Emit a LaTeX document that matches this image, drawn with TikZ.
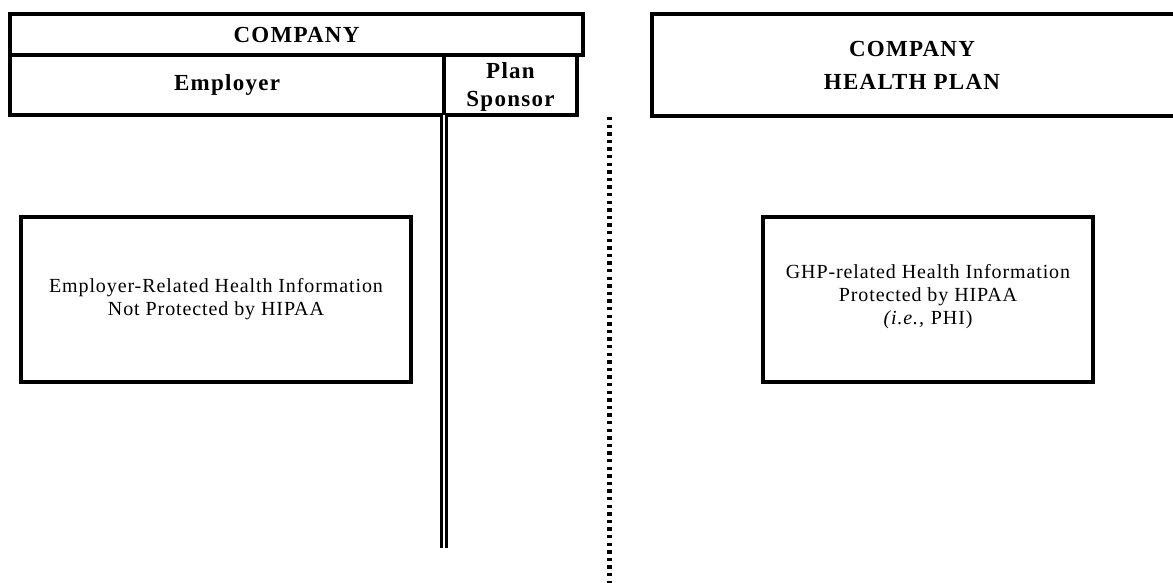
\documentclass[tikz,border=0pt]{standalone}
\usepackage{fontspec}
\setmainfont{Liberation Serif}
\newfontfamily\headfont[LetterSpace=5.5]{Liberation Serif}
\newfontfamily\bodyfont[LetterSpace=4.5]{Liberation Serif}
\begin{document}
\begin{tikzpicture}[x=1pt,y=-1pt,
  frame/.style={draw=black,line width=4pt,inner sep=0pt,outer sep=0pt},
  headtext/.style={font=\headfont\bfseries\fontsize{23}{27}\selectfont,align=center},
  bodytext/.style={font=\bodyfont\fontsize{20}{23}\selectfont,align=center}]
\useasboundingbox (0,0) rectangle (1173,583);

% company block: header row and the two halves below it
\node[frame,minimum width=573pt,minimum height=41pt] (company) at (296.5,34.5) {};
\node[headtext] (companytxt) at (company.center) {COMPANY};
\node[frame,minimum width=434pt,minimum height=60pt] (employer) at (227,85) {};
\node[headtext] (employertxt) at (employer.center) {Employer};
\node[frame,minimum width=133pt,minimum height=60pt] (sponsor) at (510.5,85) {};
\node[headtext,font=\headfont\bfseries\fontsize{23}{28}\selectfont] (sponsortxt) at (510.5,87) {Plan\\Sponsor};

% firewall below the plan sponsor
\coordinate (wallend) at (444,548);
\draw[double=white,double distance=2.4pt,line width=3.2pt] (sponsor.south west) -- (wallend);

% dotted separator between company and health plan
\coordinate (septop) at (609.5,117);
\coordinate (sepbot) at (609.5,590);
\draw[line width=4.3pt,dash pattern=on 3.4pt off 4.2pt] (septop) -- (sepbot);

% health plan header
\node[frame,minimum width=526pt,minimum height=102pt,anchor=north west] (plan) at (652,14) {};
\node[headtext,font=\headfont\bfseries\fontsize{23}{33}\selectfont] (plantxt) at (912,65) {COMPANY\\HEALTH PLAN};

% information boxes
\node[frame,minimum width=390pt,minimum height=165pt] (empinfo) at (216,299.5) {};
\node[bodytext] (empinfotxt) at (empinfo.center) {Employer-Related Health Information\\Not Protected by HIPAA};
\node[frame,minimum width=330pt,minimum height=165pt] (ghpinfo) at (928,299.5) {};
\node[bodytext] (ghpinfotxt) at (928,296.5) {GHP-related Health Information\\Protected by HIPAA\\\textit{(i.e.,} PHI)};
\end{tikzpicture}
\end{document}
